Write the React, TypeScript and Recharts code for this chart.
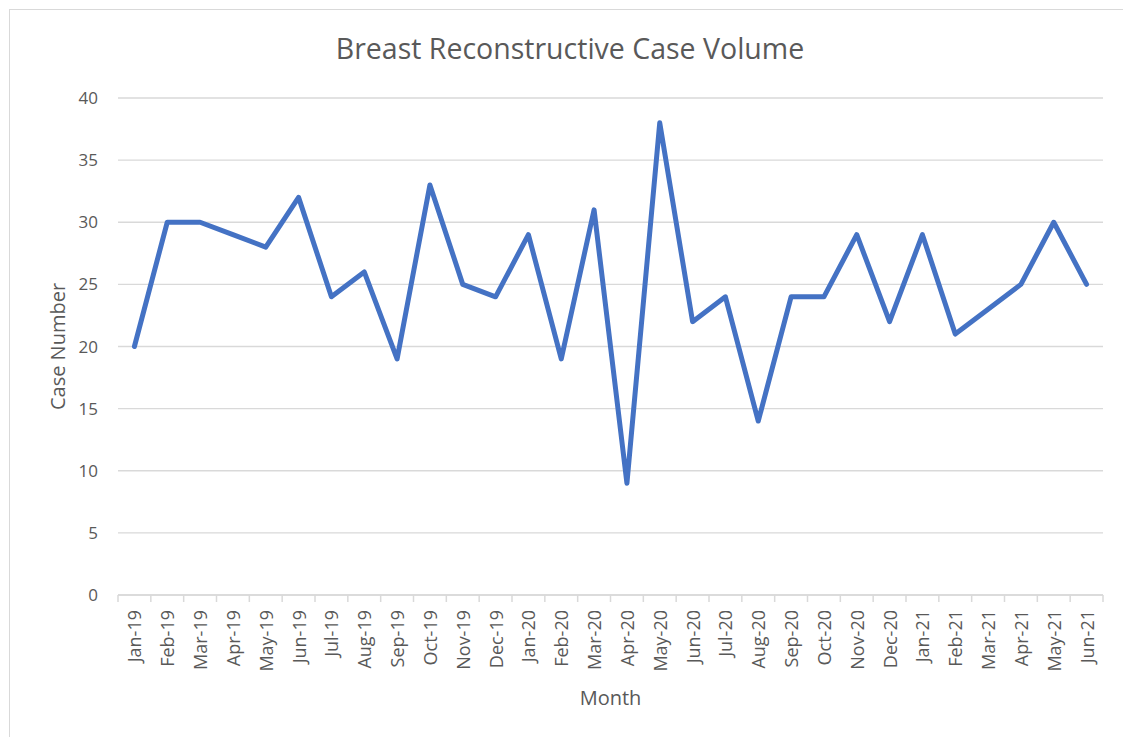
import {
  ComposedChart,
  Line,
  XAxis,
  YAxis,
  CartesianGrid,
  Label,
} from "recharts";

const months = [
  "Jan-19", "Feb-19", "Mar-19", "Apr-19", "May-19", "Jun-19",
  "Jul-19", "Aug-19", "Sep-19", "Oct-19", "Nov-19", "Dec-19",
  "Jan-20", "Feb-20", "Mar-20", "Apr-20", "May-20", "Jun-20",
  "Jul-20", "Aug-20", "Sep-20", "Oct-20", "Nov-20", "Dec-20",
  "Jan-21", "Feb-21", "Mar-21", "Apr-21", "May-21", "Jun-21",
];

const cases = [
  20, 30, 30, 29, 28, 32,
  24, 26, 19, 33, 25, 24,
  29, 19, 31, 9, 38, 22,
  24, 14, 24, 24, 29, 22,
  29, 21, 23, 25, 30, 25,
];

const yTicks = [0, 5, 10, 15, 20, 25, 30, 35, 40];

const FONT = "Open Sans, Noto Sans, sans-serif";
const TEXT = "#595959";
const GRID = "#d9d9d9";

// month label rotated, plus Excel-style tick marks on the category boundaries
function MonthTick(props: any) {
  const { x, y, payload, index } = props;
  const half = payload?.offset ?? 0;
  return (
    <g transform={`translate(${x},${y})`}>
      <line x1={-half} y1={0} x2={-half} y2={7} stroke={GRID} strokeWidth={1.5} />
      {index === months.length - 1 && (
        <line x1={half} y1={0} x2={half} y2={7} stroke={GRID} strokeWidth={1.5} />
      )}
      <text
        transform="rotate(-90)"
        x={-15}
        y={0}
        textAnchor="end"
        dominantBaseline="central"
        fill={TEXT}
        fontSize={18}
        fontFamily={FONT}
      >
        {payload.value}
      </text>
    </g>
  );
}

export default function App() {
  const rows = months.map((m, i) => ({ month: m, cases: cases[i] }));

  return (
    <div style={{ position: "relative", width: 1123, height: 737, overflow: "hidden", fontFamily: FONT }}>
      <style>{`body{margin:0;overflow:hidden;background:#fff}`}</style>
      <div
        style={{
          position: "absolute",
          left: 9,
          top: 9,
          width: 1130,
          height: 740,
          border: `1px solid ${GRID}`,
        }}
      />
      <div
        style={{
          position: "absolute",
          left: 0,
          width: 1140,
          top: 30,
          textAlign: "center",
          fontSize: 28.5,
          color: TEXT,
          lineHeight: "36px",
        }}
      >
        Breast Reconstructive Case Volume
      </div>
      <div style={{ position: "absolute", left: 0, top: 0 }}>
        <ComposedChart
          width={1123}
          height={737}
          data={rows}
          margin={{ top: 98, right: 20, bottom: 42, left: 38 }}
        >
          <CartesianGrid vertical={false} stroke={GRID} strokeWidth={1.3} />
          <XAxis
            dataKey="month"
            scale="band"
            interval={0}
            height={100}
            stroke={GRID}
            strokeWidth={1.5}
            tickLine={false}
            tickSize={0}
            tickMargin={0}
            tick={<MonthTick />}
          >
            <Label
              value="Month"
              position="insideBottom"
              offset={-10}
              style={{ fill: TEXT, fontSize: 20, fontFamily: FONT }}
            />
          </XAxis>
          <YAxis
            domain={[0, 40]}
            ticks={yTicks}
            width={80}
            axisLine={false}
            tickLine={false}
            tickSize={0}
            tickMargin={20}
            tick={{ fill: TEXT, fontSize: 17, fontFamily: FONT }}
          >
            <Label
              value="Case Number"
              angle={-90}
              position="insideLeft"
              offset={20}
              style={{ fill: TEXT, fontSize: 20, fontFamily: FONT, textAnchor: "middle" }}
            />
          </YAxis>
          <Line
            dataKey="cases"
            type="linear"
            stroke="#4472C4"
            strokeWidth={5}
            strokeLinecap="round"
            strokeLinejoin="round"
            dot={false}
            activeDot={false}
            isAnimationActive={false}
          />
        </ComposedChart>
      </div>
    </div>
  );
}
